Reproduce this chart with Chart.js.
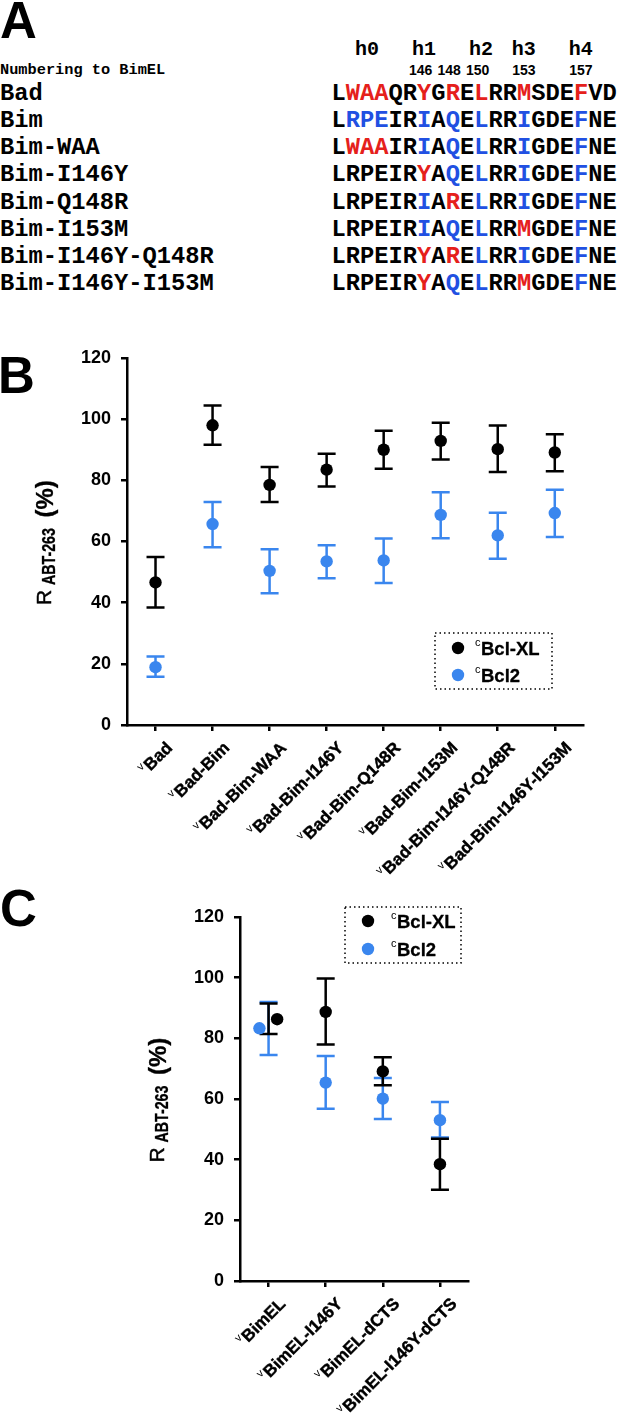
<!DOCTYPE html>
<html>
<head>
<meta charset="utf-8">
<script src="https://cdn.jsdelivr.net/npm/chart.js@4.4.1/dist/chart.umd.min.js"></script>
<style>
html,body{margin:0;padding:0;background:#fff;}
body{width:617px;height:1415px;position:relative;overflow:hidden;}
.t{position:absolute;white-space:pre;margin:0;padding:0;}
canvas{position:absolute;left:0;}
</style>
</head>
<body>
<div id="panelA"></div>
<canvas id="chartB" width="617" height="560" style="top:330px;width:617px;height:560px"></canvas>
<canvas id="chartC" width="617" height="525" style="top:890px;width:617px;height:525px"></canvas>
<script>
// ---------------- DATA ----------------
// Panel A: sequence alignment
const seqNames = ['Bad','Bim','Bim-WAA','Bim-I146Y','Bim-Q148R','Bim-I153M','Bim-I146Y-Q148R','Bim-I146Y-I153M'];
const seqs = [
  'LWAAQRYGRELRRMSDEFVD',
  'LRPEIRIAQELRRIGDEFNE',
  'LWAAIRIAQELRRIGDEFNE',
  'LRPEIRYAQELRRIGDEFNE',
  'LRPEIRIARELRRIGDEFNE',
  'LRPEIRIAQELRRMGDEFNE',
  'LRPEIRYARELRRIGDEFNE',
  'LRPEIRYAQELRRMGDEFNE'
];
// k = black, r = red (Bad-like), b = blue (Bim-like)
const seqColors = [
  'krrrkkrkrkrkkrkkkrkk',
  'kbbbkkbkbkbkkbkkkbkk',
  'krrrkkbkbkbkkbkkkbkk',
  'kkkkkkrkbkbkkbkkkbkk',
  'kkkkkkbkrkbkkbkkkbkk',
  'kkkkkkbkbkbkkrkkkbkk',
  'kkkkkkrkrkbkkbkkkbkk',
  'kkkkkkrkbkbkkrkkkbkk'
];
const helixLabels = ['h0','h1','h2','h3','h4'];
const helixCols = [2, 6, 10, 13, 17];
const residueNumbers = ['146','148','150','153','157'];
const residueCols = [6, 8, 10, 13, 17];

// Panel B
const catsB = ['Bad','Bad-Bim','Bad-Bim-WAA','Bad-Bim-I146Y','Bad-Bim-Q148R','Bad-Bim-I153M','Bad-Bim-I146Y-Q148R','Bad-Bim-I146Y-I153M'];
const bclxlB    = [46.6, 98.0, 78.5, 83.5, 90.0, 92.9, 90.2, 89.1];
const bclxlBHi  = [54.9, 104.5, 84.4, 88.7, 96.2, 98.8, 97.9, 95.1];
const bclxlBLo  = [38.4, 91.6, 72.9, 78.0, 83.8, 86.8, 82.7, 83.0];
const bcl2B     = [18.9, 65.7, 50.4, 53.5, 53.8, 68.7, 62.0, 69.3];
const bcl2BHi   = [22.4, 72.9, 57.5, 58.8, 61.0, 76.1, 69.4, 76.9];
const bcl2BLo   = [15.8, 58.1, 43.1, 48.0, 46.4, 61.1, 54.4, 61.5];

// Panel C
const catsC = ['BimEL','BimEL-I146Y','BimEL-dCTS','BimEL-I146Y-dCTS'];
const bclxlC    = [86.3, 88.7, 69.1, 38.5];
const bclxlCHi  = [91.5, 99.7, 73.8, 46.9];
const bclxlCLo  = [81.4, 78.0, 64.5, 30.1];
const bcl2C     = [83.3, 65.4, 60.1, 53.0];
const bcl2CHi   = [92.0, 74.2, 66.9, 59.0];
const bcl2CLo   = [74.5, 56.8, 53.4, 47.3];

const yTicks = [0, 20, 40, 60, 80, 100, 120];
const seriesLabels = ['Bcl-XL', 'Bcl2'];

// ---------------- STYLE ----------------
const MONO = "'Liberation Mono','Courier New',monospace";
const SANS = "'Liberation Sans',Arial,Helvetica,sans-serif";
const RED = '#e5201b', BLUESEQ = '#2150e2';
const BLACK = '#000000', BLUE = '#3a86ee';
const colorMap = {k: '#000', r: RED, b: BLUESEQ};

// ---------------- PANEL A (DOM text) ----------------
const A = document.getElementById('panelA');
function addText(txt, css) {
  const d = document.createElement('div');
  d.className = 't';
  d.textContent = txt;
  Object.assign(d.style, css);
  A.appendChild(d);
  return d;
}
const seqLeft = 331.5, charW = 14.25, seqFont = 23.75, rowTop0 = 80.1, rowStep = 27.1;
addText('A', {left:'0px', top:'-4.9px', font:'bold 51px/51px ' + SANS});
addText('B', {left:'-2px', top:'350.1px', font:'bold 51px/51px ' + SANS});
addText('C', {left:'0px', top:'882.8px', font:'bold 51px/51px ' + SANS});
addText('Numbering to BimEL', {left:'0px', top:'63.3px', font:'bold 15.3px/15.3px ' + MONO});
helixLabels.forEach((h, i) => {
  const cx = seqLeft + (helixCols[i] + 0.5) * charW;
  addText(h, {left:(cx - 20) + 'px', width:'40px', textAlign:'center', top:'39.7px', font:'bold 20px/20px ' + MONO});
});
residueNumbers.forEach((n, i) => {
  const cx = seqLeft + (residueCols[i] + 0.5) * charW - (i < 3 ? 3.5 : 0);
  addText(n, {left:(cx - 15) + 'px', width:'30px', textAlign:'center', top:'63.2px', font:'bold 14px/14px ' + SANS});
});
seqNames.forEach((name, r) => {
  const top = rowTop0 + r * rowStep;
  addText(name, {left:'0px', top: top + 'px', font:'bold ' + seqFont + 'px/' + rowStep + 'px ' + MONO});
  const row = addText('', {left: seqLeft + 'px', top: top + 'px', font:'bold ' + seqFont + 'px/' + rowStep + 'px ' + MONO});
  const s = seqs[r], c = seqColors[r];
  for (let i = 0; i < s.length; i++) {
    const sp = document.createElement('span');
    sp.textContent = s[i];
    sp.style.color = colorMap[c[i]];
    row.appendChild(sp);
  }
});

// ---------------- CHARTS ----------------
function font(weight, size) { return weight + ' ' + size + 'px ' + SANS; }
function heavyText(ctx, txt, x, y, w) {
  ctx.fillText(txt, x, y);
  ctx.lineWidth = w;
  ctx.strokeStyle = ctx.fillStyle;
  ctx.lineJoin = 'round';
  ctx.strokeText(txt, x, y);
}

function makePlugin(cats, lay) {
  return {
    id: 'custom',
    beforeDatasetsDraw(chart) {
      const ctx = chart.ctx, xs = chart.scales.x, ys = chart.scales.y;
      const cap = 9;
      for (let d = chart.data.datasets.length - 1; d >= 0; d--) {
        const ds = chart.data.datasets[d];
        ctx.save();
        ctx.strokeStyle = ds.backgroundColor;
        ctx.lineWidth = 2.5;
        ctx.lineCap = 'butt';
        ds.errHigh.forEach((hi, i) => {
          const lo = ds.errLow[i];
          const px = xs.getPixelForValue(i);
          const p1 = ys.getPixelForValue(hi), p2 = ys.getPixelForValue(lo);
          ctx.beginPath();
          ctx.moveTo(px, p1); ctx.lineTo(px, p2);
          ctx.moveTo(px - cap, p1); ctx.lineTo(px + cap, p1);
          ctx.moveTo(px - cap, p2); ctx.lineTo(px + cap, p2);
          ctx.stroke();
        });
        ctx.restore();
      }
    },
    afterDraw(chart) {
      const ctx = chart.ctx, xs = chart.scales.x, area = chart.chartArea;
      // x category labels (rotated, with superscript v)
      ctx.save();
      ctx.fillStyle = '#000';
      cats.forEach((c, i) => {
        const px = xs.getPixelForValue(i);
        ctx.save();
        ctx.translate(px + 14.5, area.bottom + 20.5);
        ctx.rotate(-Math.PI / 4);
        ctx.textAlign = 'right';
        ctx.textBaseline = 'middle';
        ctx.font = font('bold', 17);
        heavyText(ctx, c, 0, 0, 0.45);
        const w = ctx.measureText(c).width;
        ctx.font = font('normal', 11);
        ctx.fillText('v', -w - 0.8, -5.5);
        ctx.restore();
      });
      ctx.restore();

      // y-axis title: R ABT-263 (%)
      const cy = (area.top + area.bottom) / 2;
      ctx.save();
      ctx.translate(area.left, cy);
      ctx.rotate(-Math.PI / 2);
      ctx.fillStyle = '#000';
      ctx.textAlign = 'left';
      ctx.textBaseline = 'alphabetic';
      ctx.font = font('normal', 21);
      heavyText(ctx, 'R', -63.5, -76, 0.5);
      ctx.save();
      ctx.translate(-43.5, -72);
      ctx.scale(0.79, 1);
      ctx.font = font('bold', 18);
      heavyText(ctx, 'ABT-263', 0, 0, 0.3);
      ctx.restore();
      ctx.font = font('bold', 24);
      heavyText(ctx, '(%)', 24, -74, 0.3);
      ctx.restore();

      // legend
      const L = lay.legend;
      ctx.save();
      ctx.strokeStyle = '#000';
      ctx.lineWidth = 1.5;
      ctx.setLineDash([1.5, 3]);
      ctx.strokeRect(L.x, L.y, L.w, L.h);
      ctx.setLineDash([]);
      chart.data.datasets.forEach((ds, k) => {
        const ry = L.y + L.rows[k];
        ctx.fillStyle = ds.backgroundColor;
        ctx.beginPath();
        ctx.arc(L.x + L.dot, ry, 6.2, 0, Math.PI * 2);
        ctx.fill();
        ctx.fillStyle = '#000';
        ctx.textAlign = 'left';
        ctx.textBaseline = 'alphabetic';
        ctx.font = font('normal', 11);
        ctx.fillText('c', L.x + L.text, ry - 2);
        const cw = ctx.measureText('c').width;
        ctx.font = font('bold', 18.5);
        heavyText(ctx, ds.label, L.x + L.text + cw + 0.5, ry + 6.8, 0.3);
      });
      ctx.restore();
    }
  };
}

function makeChart(id, cats, series, lay) {
  const cv = document.getElementById(id);
  const H = cv.height, W = cv.width;
  const yW = 60, xH = 20;
  const axisGrid = {display: true, drawOnChartArea: false, drawTicks: true, tickLength: 6, color: '#000', lineWidth: 2.5};
  const axisBorder = {display: true, color: '#000', width: 2.5};
  return new Chart(cv, {
    type: 'scatter',
    data: {
      datasets: series.map(s => ({
        label: s.label,
        data: s.mean.map((v, i) => ({x: i + (s.nudge ? s.nudge[i] : 0), y: v})),
        errHigh: s.hi,
        errLow: s.lo,
        backgroundColor: s.color,
        borderColor: s.color,
        borderWidth: 0,
        pointRadius: 6.2,
        pointHoverRadius: 6.2
      }))
    },
    options: {
      responsive: false,
      animation: false,
      events: [],
      devicePixelRatio: window.devicePixelRatio || 1,
      layout: {padding: {left: lay.left - yW, right: W - lay.right, top: lay.top, bottom: H - lay.bottom - xH}},
      scales: {
        x: {
          type: 'linear', min: -0.5, max: cats.length - 0.5,
          afterBuildTicks: sc => { sc.ticks = cats.map((c, i) => ({value: i})); },
          afterFit: sc => { sc.height = xH; },
          ticks: {display: false},
          grid: axisGrid,
          border: axisBorder
        },
        y: {
          type: 'linear', min: yTicks[0], max: yTicks[yTicks.length - 1],
          afterBuildTicks: sc => { sc.ticks = yTicks.map(v => ({value: v})); },
          afterFit: sc => { sc.width = yW; },
          ticks: {color: '#000', font: {family: SANS, size: 18, weight: 'bold'}, padding: 10},
          grid: axisGrid,
          border: axisBorder
        }
      },
      plugins: {legend: {display: false}, tooltip: {enabled: false}}
    },
    plugins: [makePlugin(cats, lay)]
  });
}

makeChart('chartB', catsB, [
  {label: seriesLabels[0], mean: bclxlB, hi: bclxlBHi, lo: bclxlBLo, color: BLACK},
  {label: seriesLabels[1], mean: bcl2B, hi: bcl2BHi, lo: bcl2BLo, color: BLUE}
], {left: 127, right: 583.3, top: 28, bottom: 395,
    legend: {x: 435, y: 303, w: 117, h: 56, dot: 23, text: 40, rows: [15, 42]}});

// small horizontal nudge of overlapping symbols (as in the original plot)
const nudgeXL = [0.15, 0, 0, 0], nudgeB2 = [-0.16, 0, 0, 0];
makeChart('chartC', catsC, [
  {label: seriesLabels[0], mean: bclxlC, hi: bclxlCHi, lo: bclxlCLo, color: BLACK, nudge: nudgeXL},
  {label: seriesLabels[1], mean: bcl2C, hi: bcl2CHi, lo: bcl2CLo, color: BLUE, nudge: nudgeB2}
], {left: 240, right: 468.5, top: 27, bottom: 391,
    legend: {x: 345, y: 17, w: 116, h: 56, dot: 23, text: 46, rows: [14, 42]}});
</script>
</body>
</html>
